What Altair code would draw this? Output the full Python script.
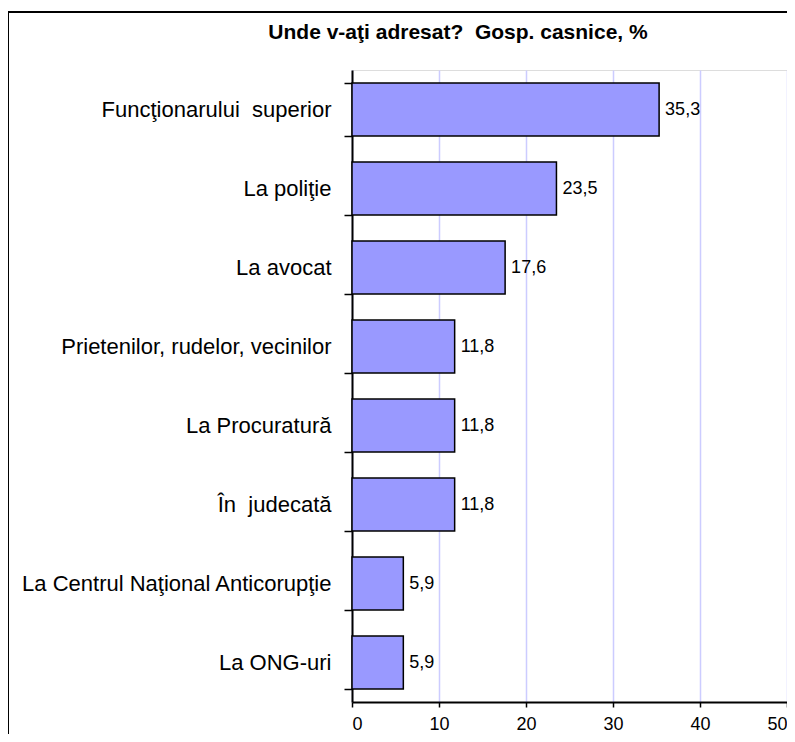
import altair as alt
import pandas as pd

categories = [
    "Funcţionarului  superior",
    "La poliţie",
    "La avocat",
    "Prietenilor, rudelor, vecinilor",
    "La Procuratură",
    "În  judecată",
    "La Centrul Naţional Anticorupţie",
    "La ONG-uri",
]
values = [35.3, 23.5, 17.6, 11.8, 11.8, 11.8, 5.9, 5.9]
x_ticks = [0, 10, 20, 30, 40, 50]
chart_title = "Unde v-aţi adresat?  Gosp. casnice, %"

df = pd.DataFrame({"cat": categories, "val": values})
df["lbl"] = [f"{v:.1f}".replace(".", ",") for v in values]

FONT = "Liberation Sans"

y_enc = alt.Y(
    "cat:N",
    sort=categories,
    title=None,
    scale=alt.Scale(paddingInner=0.33, paddingOuter=0.165),
    axis=alt.Axis(
        tickBand="extent",
        tickSize=8,
        tickColor="black",
        tickWidth=1.5,
        labelPadding=13,
        labelFontSize=22,
        labelFont=FONT,
        labelColor="black",
        labelLimit=400,
        labelExpr="replace(datum.label, '  ', ' \u00a0')",
        domainColor="black",
        domainWidth=2,
        grid=False,
    ),
)
x_enc = alt.X(
    "val:Q",
    title=None,
    scale=alt.Scale(domain=[0, 50], nice=False),
    axis=alt.Axis(
        values=x_ticks,
        format="d",
        tickSize=5,
        tickColor="black",
        tickWidth=1.5,
        labelPadding=8,
        labelFontSize=18,
        labelFont=FONT,
        labelColor="black",
        domainColor="black",
        domainWidth=2,
        grid=True,
        gridColor="#ccccff",
        gridWidth=1.5,
    ),
)

one_row = alt.Data(values=[{"k": 1}])

frame = alt.Chart(one_row).mark_rect(
    filled=False, stroke="black", strokeWidth=2
).encode(
    x=alt.value(-344), x2=alt.value(900), y=alt.value(-58), y2=alt.value(900)
)

title_mark = alt.Chart(one_row).mark_text(
    align="center", baseline="alphabetic", fontSize=21, fontWeight="bold",
    font=FONT, color="black"
).encode(
    x=alt.value(106),
    y=alt.value(-31),
    text=alt.value(chart_title.replace("  ", " \u00a0")),
)

bars = alt.Chart(df).mark_bar(
    color="#9999ff", stroke="black", strokeWidth=1.5
).encode(x=x_enc, y=y_enc)

labels = alt.Chart(df).mark_text(
    align="left", baseline="middle", dx=6, fontSize=18, font=FONT, color="black"
).encode(
    x=alt.X("val:Q"),
    y=alt.Y("cat:N", sort=categories),
    text="lbl:N",
)

chart = alt.layer(frame, bars, labels, title_mark).properties(
    width=435,
    height=632,
    autosize="none",
    padding={"left": 344, "top": 62, "right": 0, "bottom": 32},
).configure_view(stroke="#808080", strokeWidth=2).configure(background="white")

chart.save("out.html", embed_options={"renderer": "svg", "actions": False})
